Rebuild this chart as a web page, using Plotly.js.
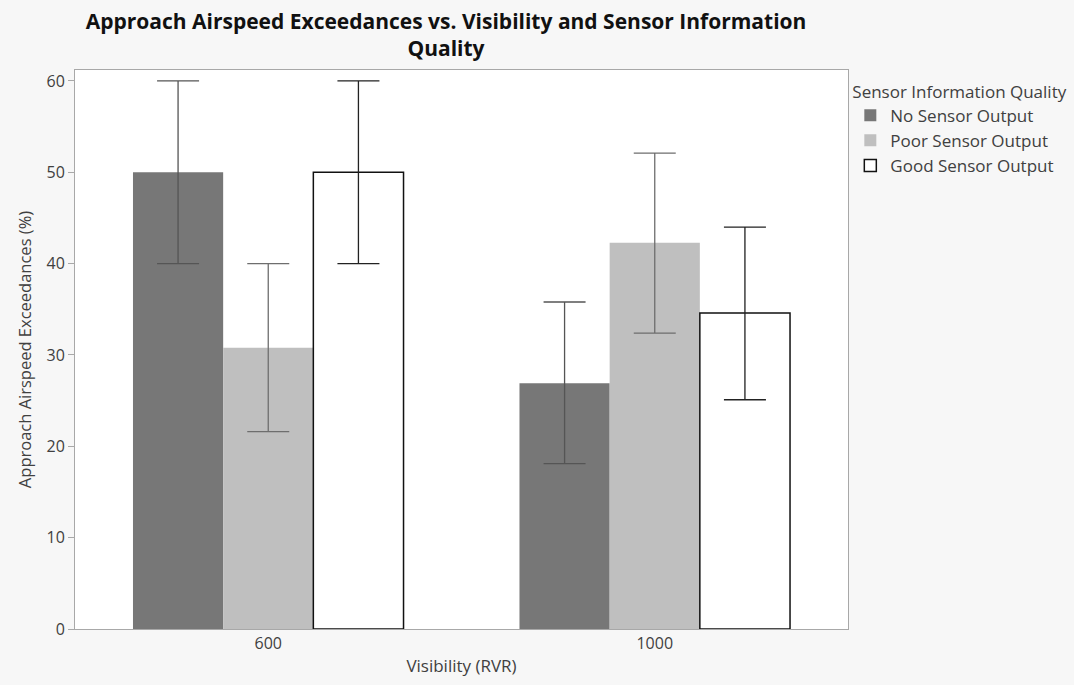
<!DOCTYPE html>
<html>
<head>
<meta charset="utf-8">
<script src="https://cdn.plot.ly/plotly-3.0.1.min.js"></script>
<style>
  html, body { margin: 0; padding: 0; background: #f7f7f7; }
  #chart { width: 1074px; height: 685px; }
</style>
</head>
<body>
<div id="chart"></div>
<script>
// Visibility levels (RVR) on the x axis
const visibility = ['600', '1000'];

// Mean exceedance percentages per sensor-quality group
const noSensor = [50.0, 26.9];
const poorSensor = [30.8, 42.3];
const goodSensor = [50.0, 34.6];

// Upper and lower ends of the error bars
const noSensorHigh = [60.0, 35.8];
const noSensorLow = [40.0, 18.1];
const poorSensorHigh = [40.0, 52.1];
const poorSensorLow = [21.6, 32.4];
const goodSensorHigh = [60.0, 44.0];
const goodSensorLow = [40.0, 25.1];

const seriesNames = ['No Sensor Output', 'Poor Sensor Output', 'Good Sensor Output'];

function errBars(vals, hi, lo, color) {
  return {
    type: 'data',
    symmetric: false,
    array: vals.map((v, i) => hi[i] - v),
    arrayminus: vals.map((v, i) => v - lo[i]),
    color: color,
    thickness: 1.3,
    width: 21
  };
}

const traces = [
  {
    type: 'bar', name: seriesNames[0], x: visibility, y: noSensor,
    marker: { color: '#777777', line: { width: 0 } },
    error_y: errBars(noSensor, noSensorHigh, noSensorLow, '#555555')
  },
  {
    type: 'bar', name: seriesNames[1], x: visibility, y: poorSensor,
    marker: { color: '#bfbfbf', line: { width: 0 } },
    error_y: errBars(poorSensor, poorSensorHigh, poorSensorLow, '#6e6e6e')
  },
  {
    type: 'bar', name: seriesNames[2], x: visibility, y: goodSensor,
    marker: { color: '#ffffff', line: { color: '#111111', width: 1.5 } },
    error_y: errBars(goodSensor, goodSensorHigh, goodSensorLow, '#222222')
  }
];

const textColor = '#404040';

const layout = {
  width: 1074,
  height: 685,
  paper_bgcolor: '#f7f7f7',
  plot_bgcolor: '#ffffff',
  font: { family: 'Open Sans, Noto Sans, sans-serif', color: textColor, size: 16 },
  margin: { l: 75, r: 226, t: 70, b: 56, autoexpand: false },
  barmode: 'group',
  bargap: 0.3,
  bargroupgap: 0,
  title: {
    text: '<b>Approach Airspeed Exceedances vs. Visibility and Sensor Information<br>Quality</b>',
    font: { family: 'Liberation Sans Narrow, Open Sans, sans-serif', size: 21, color: '#111111' },
    x: 0.48, xref: 'paper', xanchor: 'center',
    y: 0.958, yref: 'container', yanchor: 'middle'
  },
  xaxis: {
    type: 'category',
    title: { text: 'Visibility (RVR)', font: { size: 17, color: textColor }, standoff: 6 },
    showline: true, linecolor: '#a8a8a8', linewidth: 1, mirror: true,
    ticks: '', tickfont: { size: 16, color: textColor },
    showgrid: false
  },
  yaxis: {
    range: [0, 61.2],
    tickvals: [0, 10, 20, 30, 40, 50, 60],
    title: { text: 'Approach Airspeed Exceedances (%)', font: { size: 16.5, color: textColor }, standoff: 10 },
    showline: true, linecolor: '#a8a8a8', linewidth: 1, mirror: true,
    ticks: 'outside', ticklen: 6, tickcolor: '#a8a8a8',
    tickfont: { size: 16, color: textColor },
    showgrid: false, zeroline: false
  },
  legend: {
    title: { text: 'Sensor Information Quality', font: { size: 17, color: textColor } },
    x: 1.003, xanchor: 'left', y: 0.99, yanchor: 'top',
    bgcolor: 'rgba(0,0,0,0)',
    font: { size: 17, color: textColor },
    tracegroupgap: 0,
    itemwidth: 30
  },
  showlegend: true
};

Plotly.newPlot('chart', traces, layout, { displayModeBar: false, staticPlot: true });
</script>
</body>
</html>
